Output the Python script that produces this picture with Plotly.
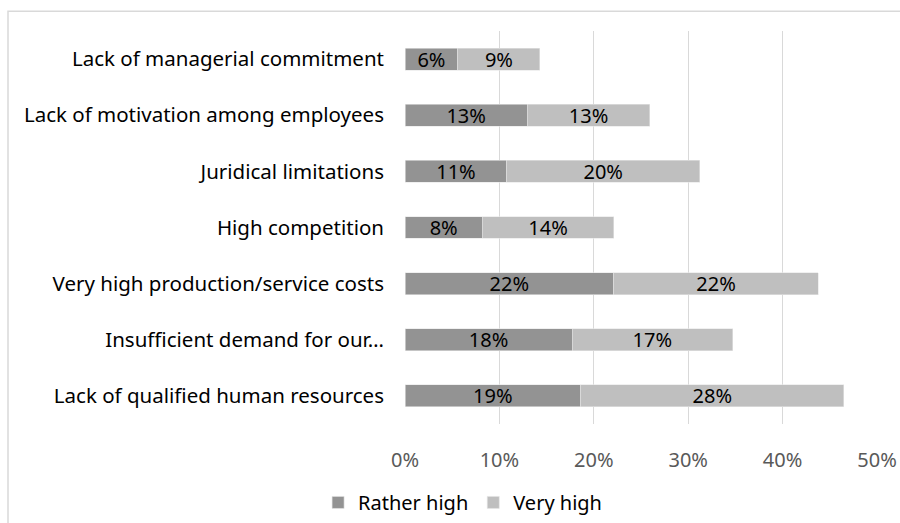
import plotly.graph_objects as go

categories = [
    "Lack of managerial commitment",
    "Lack of motivation among employees",
    "Juridical limitations",
    "High competition",
    "Very high production/service costs",
    "Insufficient demand for our…",
    "Lack of qualified human resources",
]
rather_high = [0.056, 0.1295, 0.108, 0.082, 0.221, 0.177, 0.186]
very_high = [0.087, 0.13, 0.204, 0.139, 0.217, 0.170, 0.279]
series_names = ["Rather high", "Very high"]
tick_vals = [0, 0.1, 0.2, 0.3, 0.4, 0.5]
tick_text = ["0%", "10%", "20%", "30%", "40%", "50%"]

FONT = "Noto Sans"
FS = 20
fig = go.Figure()
for name, vals, col in [(series_names[0], rather_high, "#939393"),
                        (series_names[1], very_high, "#bfbfbf")]:
    fig.add_trace(go.Bar(
        y=categories, x=vals, name=name, orientation="h",
        marker=dict(color=col, line=dict(color="#e6e6e6", width=0.6)),
        texttemplate="%{x:.0%}", textposition="inside",
        insidetextanchor="middle", constraintext="none", textangle=0,
        textfont=dict(family=FONT, size=FS, color="#000000"),
    ))

fig.update_layout(
    template="none",
    barmode="stack",
    bargap=0.61,
    width=900, height=523,
    margin=dict(l=405, r=23, t=31, b=99, autoexpand=False),
    paper_bgcolor="white", plot_bgcolor="white",
    font=dict(family=FONT, size=FS, color="#000000"),
    legend=dict(orientation="h", x=0.122, xanchor="center", y=-0.15,
                yanchor="top", font=dict(family=FONT, size=FS, color="#000000"),
                itemwidth=30, traceorder="normal", bgcolor="rgba(0,0,0,0)"),
    xaxis=dict(range=[0, 0.5], tickvals=tick_vals, ticktext=tick_text,
               showgrid=True, gridcolor="#d9d9d9", gridwidth=1,
               zeroline=False, showline=False, ticks="", automargin=False,
               tickfont=dict(family=FONT, size=FS, color="#595959"),
               ticklabelstandoff=22),
    yaxis=dict(autorange="reversed", showgrid=False, zeroline=False,
               showline=False, ticks="", automargin=False,
               tickfont=dict(family=FONT, size=20.5, color="#000000"),
               ticklabelstandoff=20),
    shapes=[dict(type="rect", xref="paper", yref="paper",
                 x0=(8 - 405) / 472, x1=(1000 - 405) / 472,
                 y0=(424 - 600) / 393.3, y1=(424 - 11) / 393.3,
                 line=dict(color="#d9d9d9", width=1.5), layer="below")],
)
fig.write_html("out.html")
